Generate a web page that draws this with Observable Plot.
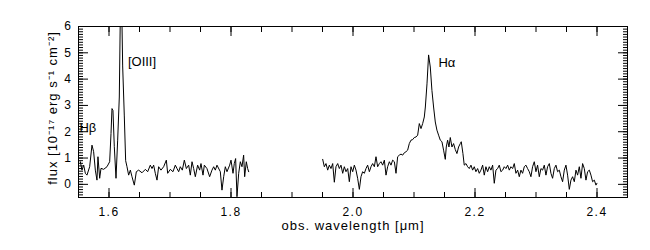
<!DOCTYPE html>
<html><head><meta charset="utf-8">
<script src="https://cdn.jsdelivr.net/npm/d3@7"></script>
<script src="https://cdn.jsdelivr.net/npm/@observablehq/plot@0.6"></script>
<style>
body{margin:0;background:#fff} svg{display:block}
g[aria-label="x-axis tick label"] text, g[aria-label="y-axis tick label"] text {letter-spacing:1.5px}
.lbl text {letter-spacing:1px}
</style>
</head><body><div id="chart"></div>
<script>
// H-band segment (obs. wavelength in micron, flux in 1e-17 erg/s/cm2)
const wlH = [1.553,1.5557,1.5585,1.5612,1.5639,1.5683,1.5721,1.5748,1.5776,1.5803,1.5819,1.5847,1.5869,1.5912,1.5967,1.6011,1.6033,1.6049,1.6065,1.6087,1.6115,1.6142,1.6169,1.6191,1.6208,1.6224,1.6251,1.6273,1.6295,1.6322,1.635,1.6377,1.6415,1.6448,1.6486,1.6541,1.6596,1.6634,1.6677,1.6705,1.6732,1.6759,1.6787,1.6814,1.6852,1.6896,1.694,1.6962,1.7005,1.7049,1.7087,1.7115,1.7142,1.7169,1.7202,1.7235,1.7268,1.7306,1.7333,1.7361,1.7388,1.7415,1.7453,1.7486,1.7508,1.7541,1.7563,1.7606,1.765,1.7688,1.7716,1.7743,1.777,1.7825,1.7852,1.788,1.7907,1.7934,1.7978,1.8,1.8033,1.8054,1.8076,1.8098,1.8126,1.8153,1.818,1.8207,1.8224,1.8251,1.8273,1.829];
const fluxH = [0.86,0.54,0.73,0.42,0.35,0.67,1.49,1.24,0.54,0.16,1.05,0.23,0.61,0.57,0.67,0.86,1.93,2.88,2.81,1.43,0.23,1.68,3.32,7.5,6.8,4.5,2.6,0.9,0.67,0.35,0.54,0.29,-0.03,0.48,0.54,0.44,0.57,0.48,0.73,0.6,0.73,0.42,0.16,0.67,0.54,0.67,0.92,0.42,0.57,0.48,0.73,0.6,0.48,0.67,0.54,0.92,0.6,0.73,0.35,0.86,0.6,0.29,0.73,0.54,0.79,0.35,0.73,0.6,0.29,0.54,0.67,0.54,0.73,0.48,-0.22,0.29,0.67,0.48,0.73,0.92,0.42,0.79,0.98,-0.47,0.42,0.86,0.67,1.11,0.29,0.86,0.6,0.48];
// K-band segment
const wlK = [1.9503,1.953,1.9557,1.9585,1.9612,1.9639,1.9667,1.9694,1.9721,1.9749,1.9776,1.9803,1.9831,1.9858,1.9885,1.9913,1.994,1.9967,1.9995,2.0022,2.0049,2.0076,2.0104,2.0131,2.0158,2.0186,2.0213,2.024,2.0268,2.0295,2.0322,2.035,2.0377,2.0404,2.0432,2.0459,2.0486,2.0514,2.0541,2.0568,2.0596,2.0623,2.065,2.0678,2.0705,2.0732,2.0759,2.0787,2.0814,2.0841,2.0869,2.0896,2.0923,2.0951,2.0978,2.1005,2.1033,2.106,2.1087,2.1115,2.1142,2.1169,2.1186,2.1213,2.1239,2.1267,2.1294,2.1321,2.1349,2.1376,2.1403,2.1431,2.1458,2.1485,2.1513,2.1529,2.1551,2.1573,2.1595,2.1622,2.1649,2.1677,2.1704,2.1731,2.1759,2.1775,2.1802,2.1824,2.1852,2.1879,2.1906,2.1934,2.1961,2.1988,2.2015,2.2043,2.207,2.2097,2.2125,2.2152,2.2179,2.2207,2.2234,2.2261,2.2289,2.2316,2.2343,2.2371,2.2398,2.2425,2.2453,2.248,2.2507,2.2535,2.2562,2.2589,2.2617,2.2644,2.2671,2.2699,2.2726,2.2753,2.278,2.2808,2.2835,2.2862,2.289,2.2917,2.2944,2.2972,2.2999,2.3026,2.3054,2.3081,2.3108,2.3136,2.3163,2.319,2.3218,2.3245,2.3272,2.33,2.3327,2.3354,2.3382,2.3409,2.3436,2.3464,2.3491,2.3518,2.3546,2.3573,2.36,2.3628,2.3655,2.3682,2.371,2.3737,2.3764,2.3792,2.3819,2.3846,2.3874,2.3901,2.3928,2.3956,2.3983,2.3999];
const fluxK = [0.95,0.67,0.79,0.54,0.73,0.6,0.79,0.08,0.67,0.79,0.6,0.73,0.42,0.67,0.48,0.6,0.1,0.67,0.48,0.73,0.54,0.23,-0.19,0.29,0.48,0.42,0.6,0.73,0.48,0.67,0.79,0.67,1.05,0.67,0.79,0.86,0.73,0.92,0.35,0.67,0.86,0.73,0.92,0.86,0.42,1.05,1.11,1.15,1.11,1.2,1.24,1.3,1.55,1.68,1.7,1.78,1.8,1.87,2.31,2.12,2.31,2.56,2.94,3.82,4.92,4.46,3.57,2.94,2.37,2.06,1.87,1.68,1.62,1.3,0.95,1.42,1.68,1.42,1.78,1.42,1.55,1.32,1.17,1.42,1.55,1.62,1.17,0.73,0.79,0.67,0.6,0.73,0.54,0.67,0.48,0.6,0.42,0.54,0.73,0.35,0.67,0.48,0.67,0.54,0.73,0.04,0.54,0.6,0.73,0.48,0.54,0.67,0.6,0.73,0.54,0.67,0.6,0.79,0.42,0.54,0.29,0.54,0.42,0.67,0.73,0.6,0.48,0.29,0.67,0.86,0.48,0.73,0.29,0.6,0.54,0.73,0.35,0.67,0.79,0.42,0.23,0.6,0.73,0.48,0.54,0.29,0.1,0.54,0.73,0.35,-0.19,0.16,0.29,0.1,0.54,0.35,0.67,0.23,0.79,0.6,0.16,0.48,0.54,0.35,0.1,0.16,-0.03,0.04];

const xTicks = [1.6, 1.8, 2.0, 2.2, 2.4];
const xTickLabels = ["1.6", "1.8", "2.0", "2.2", "2.4"];
const yTicks = [0, 1, 2, 3, 4, 5, 6];
const yTickLabels = ["0", "1", "2", "3", "4", "5", "6"];
const lineNames = ["Hβ", "[OIII]", "Hα"];
const lineWl = [1.5515, 1.631, 2.140];
const lineFlux = [2.15, 4.67, 4.63];
const xLabel = "obs. wavelength [μm]";
const yLabel = "flux [10⁻¹⁷ erg s⁻¹ cm⁻²]";

const H = wlH.map((w, i) => ({w, f: fluxH[i]}));
const K = wlK.map((w, i) => ({w, f: fluxK[i]}));
const lines = lineNames.map((n, i) => ({n, w: lineWl[i], f: lineFlux[i]}));
const xMinor = d3.range(1.55, 2.4501, 0.05).map(v => +v.toFixed(3));
const yMinor = d3.range(-0.5, 6.001, 0.1).map(v => +v.toFixed(2));
const blank = () => "";

const chart = Plot.plot({
  width: 650, height: 250,
  marginLeft: 78, marginRight: 23, marginTop: 26, marginBottom: 53,
  x: {domain: [1.55, 2.45]},
  y: {domain: [-0.5, 6]},
  style: {fontFamily: "Liberation Sans, Arial, sans-serif", fontSize: "12px", color: "black", background: "white"},
  marks: [
    Plot.axisX(xMinor, {anchor: "bottom", tickSize: -5, tickFormat: blank, label: null}),
    Plot.axisX(xMinor, {anchor: "top", tickSize: -5, tickFormat: blank, label: null}),
    Plot.axisX(xTicks, {anchor: "bottom", tickSize: -9, tickFormat: blank, label: null}),
    Plot.axisX(xTicks, {anchor: "top", tickSize: -9, tickFormat: blank, label: null}),
    Plot.axisX(xTicks, {anchor: "bottom", tickSize: 0, tickPadding: 10, tickFormat: d => xTickLabels[xTicks.indexOf(d)], label: null, fontSize: 12}),
    Plot.axisY(yMinor, {anchor: "left", tickSize: -5, tickFormat: blank, label: null}),
    Plot.axisY(yMinor, {anchor: "right", tickSize: -5, tickFormat: blank, label: null}),
    Plot.axisY(yTicks, {anchor: "left", tickSize: -10, tickFormat: blank, label: null}),
    Plot.axisY(yTicks, {anchor: "right", tickSize: -10, tickFormat: blank, label: null}),
    Plot.axisY(yTicks, {anchor: "left", tickSize: 0, tickPadding: 6, tickFormat: d => yTickLabels[yTicks.indexOf(d)], label: null, fontSize: 12}),
    Plot.frame({stroke: "black"}),
    Plot.line(H, {x: "w", y: "f", stroke: "black", strokeWidth: 1, clip: true}),
    Plot.line(K, {x: "w", y: "f", stroke: "black", strokeWidth: 1, clip: true}),
    Plot.text(lines, {x: "w", y: "f", text: "n", textAnchor: "start", fontSize: 13, fill: "black"}),
    Plot.text([xLabel], {frameAnchor: "bottom", dy: 32, text: d => d, fontSize: 13, fill: "black", className: "lbl"}),
    Plot.text([yLabel], {frameAnchor: "left", textAnchor: "middle", dx: -26, dy: -4, rotate: -90, text: d => d, fontSize: 13, fill: "black", className: "lbl"})
  ]
});
d3.select(chart).selectAll('g[aria-label="text"]').filter(function() {
  const t = d3.select(this).select("text").text();
  return t === xLabel || t === yLabel;
}).attr("class", "lbl");
document.getElementById("chart").appendChild(chart);
</script>
</body></html>
